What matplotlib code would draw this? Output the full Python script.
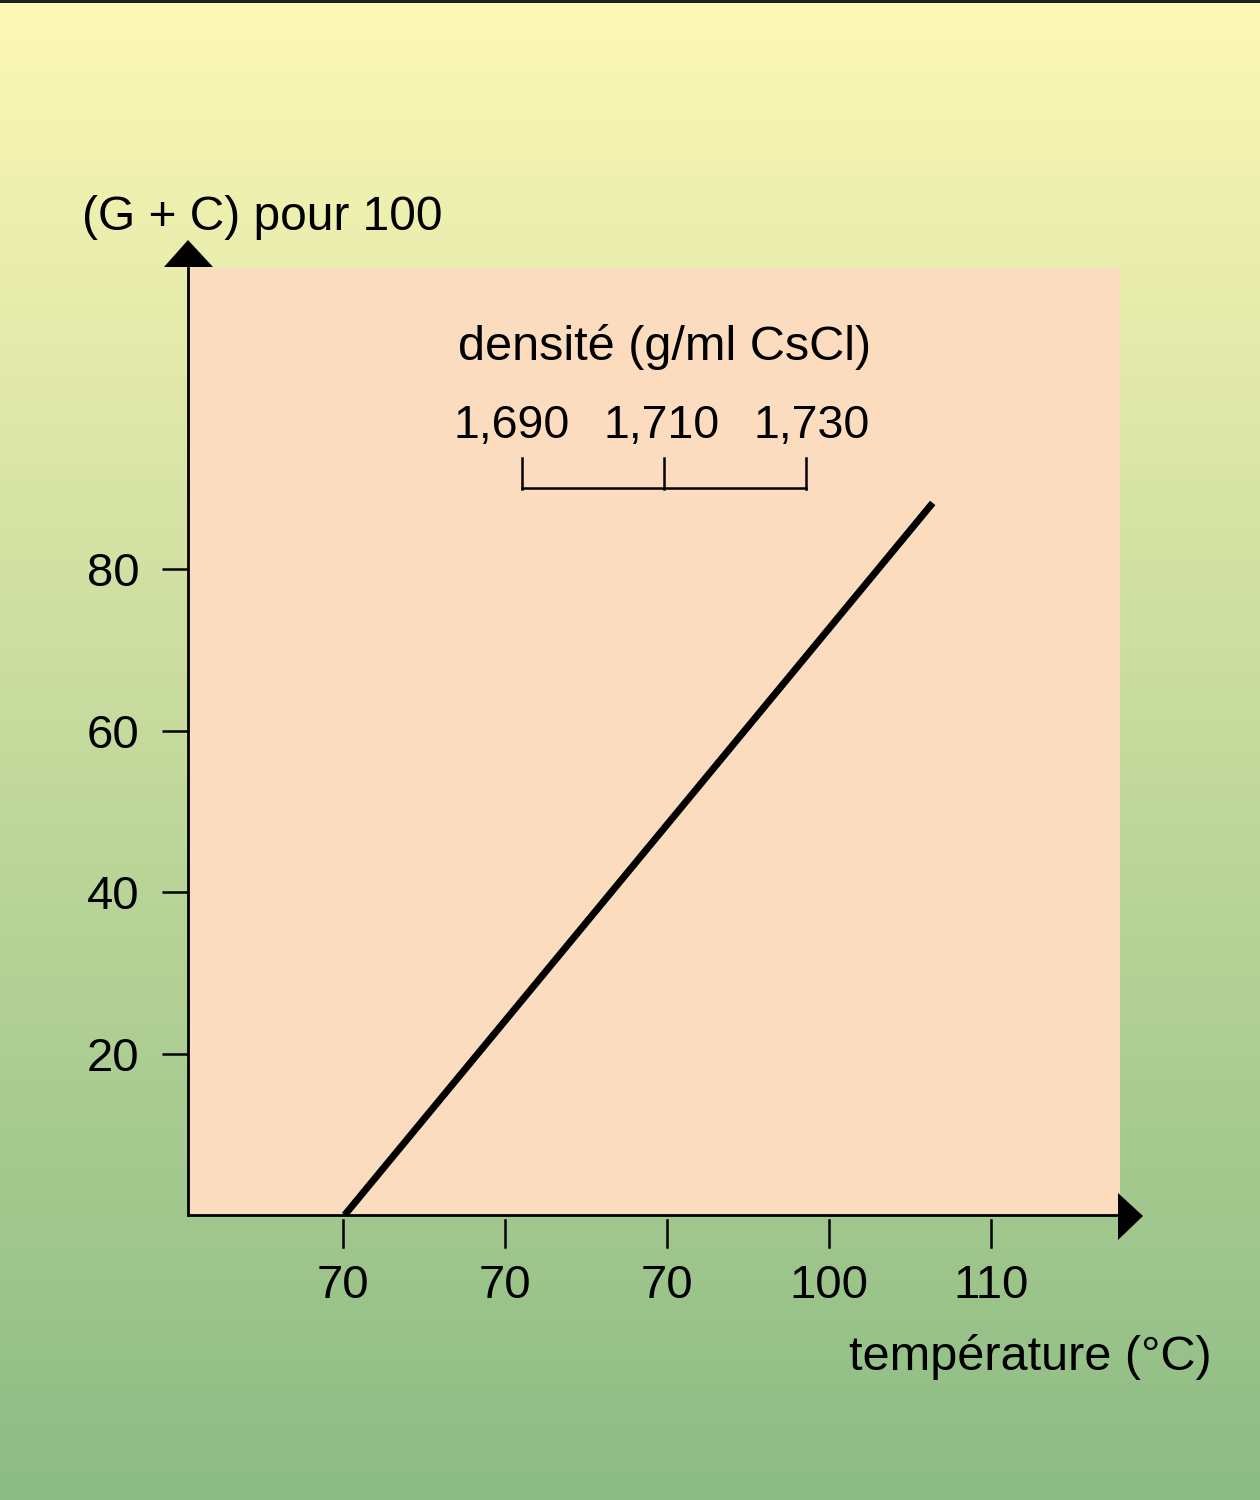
import numpy as np
import matplotlib
matplotlib.use("Agg")
import matplotlib.pyplot as plt
from matplotlib.patches import Polygon, Rectangle
from matplotlib.lines import Line2D
import matplotlib.transforms as mtransforms

# data
temp_line = [70.1, 106.4]          # temperature (C) at the ends of the line
gc_line = [0.0, 88.2]              # (G + C) pour 100
x_ticks = [70, 80, 90, 100, 110]
x_labels = ["70", "70", "70", "100", "110"]   # as printed in the original
y_ticks = [20, 40, 60, 80]
dens_ticks = [1.690, 1.710, 1.730]
dens_labels = ["1,690", "1,710", "1,730"]

W, H = 1260, 1500
plt.rcParams['font.family'] = ['Liberation Sans', 'DejaVu Sans']
fig = plt.figure(figsize=(W / 100, H / 100), dpi=100)


def px(x, y):
    return (x / W, 1 - y / H)


# gradient background
bg = fig.add_axes([0, 0, 1, 1], zorder=-10)
top = np.array([253, 248, 182]) / 255
bot = np.array([140, 188, 132]) / 255
t = np.linspace(0, 1, 300)[:, None]
grad = (top[None, :] * (1 - t) + bot[None, :] * t)[:, None, :]
bg.imshow(grad, aspect='auto', extent=[0, 1, 0, 1])
bg.axis('off')
fig.add_artist(Rectangle(px(0, 3), 1, 3 / H, transform=fig.transFigure,
                         color='#1e1e1e', lw=0))

# main axes
x0, x1, y0, y1 = 188, 1120, 268, 1215
ax = fig.add_axes([x0 / W, 1 - y1 / H, (x1 - x0) / W, (y1 - y0) / H])
ax.set_facecolor('#fcdcbe')
ax.set_xlim(60.43, 117.96)
ax.set_ylim(0, 117.3)
for s in ['top', 'right']:
    ax.spines[s].set_visible(False)
for s in ['left', 'bottom']:
    ax.spines[s].set_linewidth(2.0)
    ax.spines[s].set_color('black')

ax.plot(temp_line, gc_line, color='black', lw=5.0, solid_capstyle='butt')

ax.set_yticks(y_ticks)
ax.set_yticklabels([str(v) for v in y_ticks], fontsize=34)
ax.tick_params(axis='y', direction='out', length=19, width=1.8, pad=16)
ax.set_xticks([])

axh = y1 - y0
trans = mtransforms.blended_transform_factory(ax.transData, ax.transAxes)
for xv, lab in zip(x_ticks, x_labels):
    ax.add_line(Line2D([xv, xv], [-5 / axh, -32 / axh], transform=trans,
                       color='black', lw=1.8, clip_on=False))
    ax.text(xv, -71 / axh, lab, transform=trans, ha='center', va='center',
            fontsize=34)

# axis arrows
fig.add_artist(Polygon([px(188, 240), px(164, 267), px(213, 267)],
                       closed=True, transform=fig.transFigure, color='black', lw=0))
fig.add_artist(Polygon([px(1143, 1216), px(1118, 1193), px(1118, 1240)],
                       closed=True, transform=fig.transFigure, color='black', lw=0))

# axis titles
fig.text(*px(82, 217), "(G + C) pour 100", ha='left', va='center', fontsize=34.5)
fig.text(*px(1212, 1357), "température (°C)", ha='right', va='center', fontsize=35)

# density scale
fig.text(*px(665, 347), "densité (g/ml CsCl)", ha='center', va='center', fontsize=35)
dx0, dx1 = 522, 806


def dpx(d):
    return dx0 + (d - dens_ticks[0]) / (dens_ticks[-1] - dens_ticks[0]) * (dx1 - dx0)


fig.add_artist(Line2D([px(dx0, 488)[0], px(dx1, 488)[0]], [px(0, 488)[1]] * 2,
                      transform=fig.transFigure, color='black', lw=1.8))
for i, (d, lab) in enumerate(zip(dens_ticks, dens_labels)):
    xp = dpx(d)
    fig.add_artist(Line2D([xp / W, xp / W], [px(0, 458)[1], px(0, 489)[1]],
                          transform=fig.transFigure, color='black', lw=1.8))
    fig.text(*px(xp + (i - 1) * 8 - 2, 426), lab, ha='center', va='center',
             fontsize=33.5)

fig.savefig("out.png", dpi=100)
